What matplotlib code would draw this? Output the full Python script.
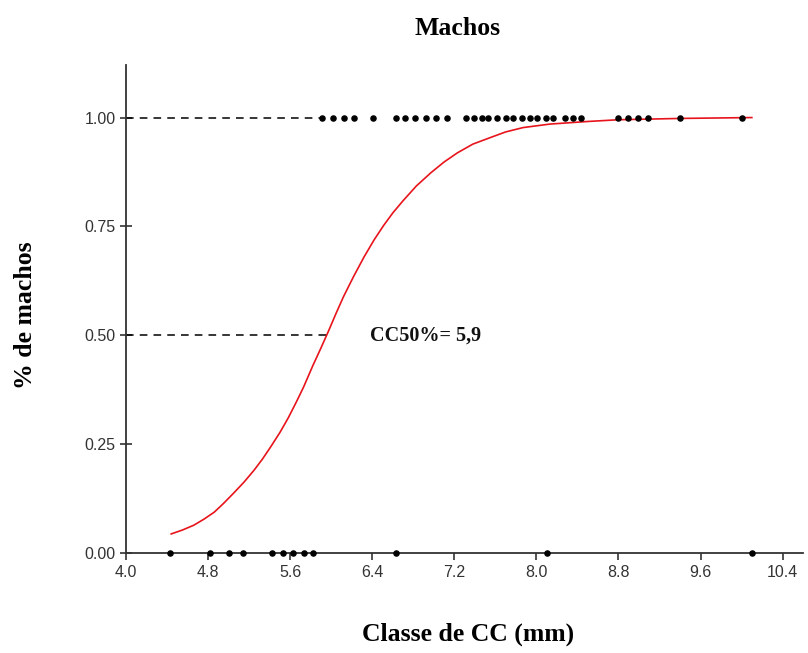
import matplotlib
matplotlib.use("Agg")
import matplotlib.pyplot as plt

# observed points (proportion of males by CC class)
x_one = [5.91, 6.02, 6.12, 6.22, 6.41, 6.63, 6.72, 6.82, 6.92, 7.02, 7.13,
         7.31, 7.39, 7.47, 7.53, 7.62, 7.70, 7.77, 7.86, 7.94, 8.01, 8.09,
         8.16, 8.28, 8.36, 8.43, 8.80, 8.89, 8.99, 9.09, 9.40, 10.0]
x_zero = [4.43, 4.82, 5.0, 5.14, 5.42, 5.53, 5.63, 5.73, 5.82, 6.63, 8.1, 10.1]

# fitted logistic curve
curve_x = [4.44, 4.55, 4.66, 4.76, 4.86, 4.95, 5.05, 5.15, 5.25, 5.33, 5.41,
           5.50, 5.58, 5.66, 5.73, 5.82, 5.90, 5.97, 6.05, 6.12, 6.22, 6.32,
           6.42, 6.51, 6.60, 6.70, 6.83, 6.97, 7.10, 7.23, 7.38, 7.55, 7.70,
           7.87, 8.0, 8.13, 8.50, 8.80, 9.40, 10.1]
curve_y = [0.044, 0.053, 0.064, 0.078, 0.094, 0.114, 0.138, 0.163, 0.191, 0.216,
           0.244, 0.277, 0.310, 0.347, 0.381, 0.430, 0.471, 0.508, 0.552, 0.589,
           0.636, 0.680, 0.720, 0.752, 0.781, 0.809, 0.843, 0.873, 0.898, 0.919,
           0.939, 0.954, 0.967, 0.977, 0.981, 0.985, 0.991, 0.995, 0.998, 1.0]

cc50 = 5.9
x_ticks = [4.0, 4.8, 5.6, 6.4, 7.2, 8.0, 8.8, 9.6, 10.4]
y_ticks = [0.0, 0.25, 0.5, 0.75, 1.0]

fig = plt.figure(figsize=(8.08, 6.53), dpi=100)
ax = fig.add_axes([0.156, 0.153, 0.838, 0.747])

ax.plot(curve_x, curve_y, color="#e8141c", lw=1.2, zorder=3)

ax.plot([4.0, 5.92], [1.0, 1.0], color="black", lw=1.1,
        dashes=(5, 4), zorder=2)
ax.plot([4.0, 5.97], [0.5, 0.5], color="black", lw=1.1,
        dashes=(5, 4), zorder=2)

ax.plot(x_one, [1.0] * len(x_one), "o", color="black", ms=3.7,
        clip_on=False, zorder=4)
ax.plot(x_zero, [0.0] * len(x_zero), "o", color="black", ms=3.7,
        clip_on=False, zorder=4)

ax.text(6.38, 0.5, "CC50%= 5,9", fontsize=14.5, fontweight="bold",
        family="Liberation Serif", va="center", ha="left", color="#111111")

ax.set_xlim(4.0, 10.6)
ax.set_ylim(0, 1.12)
ax.set_xticks(x_ticks)
ax.set_xticklabels([f"{v:.1f}" for v in x_ticks])
ax.set_yticks(y_ticks)
ax.set_yticklabels([f"{v:.2f}" for v in y_ticks])

for s in ["top", "right"]:
    ax.spines[s].set_visible(False)
for s in ["left", "bottom"]:
    ax.spines[s].set_color("#333333")
    ax.spines[s].set_linewidth(1.3)

ax.tick_params(axis="both", direction="out", length=5, width=1.2,
               colors="#333333", labelsize=11.5, labelcolor="#333333")
ax.tick_params(axis="y", direction="inout", length=8)
for lab in ax.get_xticklabels() + ax.get_yticklabels():
    lab.set_family("Liberation Sans")

fig.text(0.566, 0.957, "Machos", fontsize=18.5, fontweight="bold",
         family="Liberation Serif", ha="center", va="center")
fig.text(0.579, 0.028, "Classe de CC (mm)", fontsize=18.5, fontweight="bold",
         family="Liberation Serif", ha="center", va="center")
fig.text(0.031, 0.517, "% de machos", fontsize=18.5, fontweight="bold",
         family="Liberation Serif", ha="center", va="center", rotation=90)

fig.savefig("out.png", dpi=100, facecolor="white")
